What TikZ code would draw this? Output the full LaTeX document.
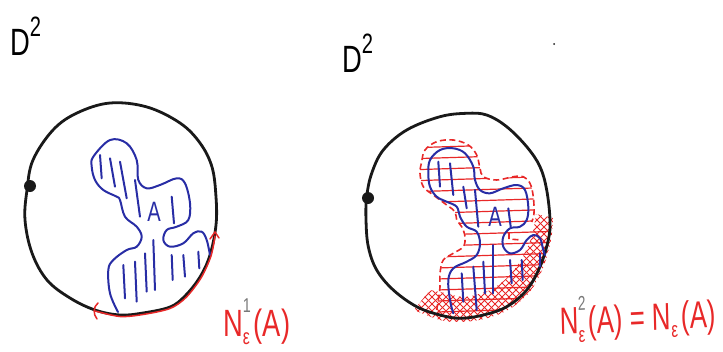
\documentclass[tikz,border=0pt]{standalone}
\usepackage{fontspec}
\setmainfont{Liberation Sans}
\definecolor{inkblue}{RGB}{40,45,165}
\definecolor{inkred}{RGB}{232,40,40}
\definecolor{inkblack}{RGB}{25,25,25}
\definecolor{pencil}{RGB}{120,120,120}
\newcommand{\epsstack}[1]{\rlap{\raisebox{-0.22em}{\fontsize{22}{22}\selectfont ε}}\raisebox{0.62em}{\fontsize{20}{20}\selectfont\textcolor{pencil}{#1}}}
\begin{document}
\begin{tikzpicture}[x=1pt,y=-1pt,
  disk/.style={draw=inkblack, line width=2.8pt, line join=round},
  blob/.style={draw=inkblue, line width=2pt, line join=round, line cap=round},
  bhatch/.style={inkblue, line width=2pt, line cap=round},
  rhatch/.style={inkred, line width=1.2pt},
  xhatch/.style={inkred, line width=1.0pt},
  nbhd/.style={inkred, line width=1.6pt, dash pattern=on 6pt off 3.5pt},
  redline/.style={inkred, line width=1.5pt, line cap=round},
  lbl/.style={inner sep=0pt, font=\fontsize{38}{38}\selectfont},
  alabel/.style={inner sep=0pt, text=inkblue, font=\fontsize{28}{28}\selectfont}]
\useasboundingbox (0,0) rectangle (723,351);

% ---------------- right picture: hatchings ----------------
\begin{scope}
\clip plot[smooth, tension=0.6] coordinates {(436.7,310) (438.3,300) (440,286.7) (440,273.3) (443.3,260) (453.3,253.3) (463.3,246.7) (465,236.7) (461.7,226.7) (456.7,220) (455,211.7) (446.7,205) (433.3,195) (423.3,186.7) (420,173.3) (421.7,161.7) (425,150) (436.7,141.7) (453.3,140) (468.3,145) (476.7,155) (480,168.3) (483.3,176.7) (496.7,180) (513.3,176.7) (523.3,176.7) (530,183.3) (533.3,196.7) (534,213.3) (531.7,222)}
  -- (548.3,228) -- plot[smooth] coordinates {(548.3,240) (540,266.7) (526.7,290) (506.7,306.7) (483.3,315) (460,318.3) (440,315)} -- cycle;
\foreach \yy in {148,159,...,320} {\draw[rhatch] (405,\yy) -- (565,\yy-5);}
\end{scope}
\begin{scope}
\clip plot[smooth] coordinates {(414,310) (440,320) (460,322) (484,319) (508,310) (529,293) (543,268) (551,240) (553,218)}
  -- plot[smooth] coordinates {(536,214) (532,236) (522,258) (508,277) (490,290) (465,297) (445,293) (430,290)} -- cycle;
\foreach \c in {300,307,...,580} {\draw[xhatch] (\c,200) -- ++(130,130);}
\foreach \c in {410,417,...,700} {\draw[xhatch] (\c,200) -- ++(-130,130);}
\end{scope}

% ---------------- discs ----------------
\draw[disk] plot[smooth cycle, tension=0.6] coordinates {(110,103) (147,107) (180,123) (200,143) (212,167) (216,197) (216,225) (210,255) (200,277) (185,296) (170,307) (143,313) (120,315) (95,310) (70,298) (47,280) (32,253) (25,220) (27,190) (33,160) (53,130) (77,113)};
\fill[inkblack] (30,186) circle (6pt);

\draw[disk] plot[smooth cycle, tension=0.6] coordinates {(466.7,113.3) (486.7,115) (506.7,126.7) (526.7,146.7) (540,166.7) (546.7,190) (550,220) (548.3,240) (540,266.7) (526.7,290) (506.7,306.7) (483.3,315) (460,318.3) (440,315) (416.7,306.7) (393.3,290) (376.7,270) (368.3,246.7) (366,220) (366.7,196.7) (371.7,173.3) (383.3,150) (406.7,130) (440,116.7)};
\fill[inkblack] (368,198) circle (6pt);

% ---------------- left picture: set A ----------------
\draw[blob] plot[smooth, tension=0.6] coordinates {(118,312) (110,293.3) (108.3,270) (113.3,260) (126.7,250) (136.7,246.7) (141.7,236.7) (136.7,226.7) (125,216.7) (120,200) (116.7,196.7) (103.3,190) (95,180) (91.7,166.7) (93.3,156.7) (110,140) (126.7,143.3) (136.7,160) (138.3,180) (146.7,188.3) (160,185) (176.7,178.3) (185,183.3) (190,203.3) (188.3,220) (176.7,226.7) (166.7,230) (163.3,240) (170,246.7) (183.3,243.3) (193.3,233.3) (201.7,231.7) (206.7,240) (210,255)};
\draw[bhatch] (100,155) -- (101.7,178.3);
\draw[bhatch] (110,158.3) -- (115,186.7);
\draw[bhatch] (120,161.7) -- (126.7,198.3);
\draw[bhatch] (135,180) -- (140,216.7);
\draw[bhatch] (171.7,196.7) -- (174,223.3);
\draw[bhatch] (123.3,265) -- (125,298.3);
\draw[bhatch] (135,261.7) -- (136.7,301.7);
\draw[bhatch] (145,253.3) -- (146.7,291.7);
\draw[bhatch] (153.3,240) -- (155,290);
\draw[bhatch] (171.7,255) -- (172.7,280);
\draw[bhatch] (183.3,255) -- (185,276.7);
\draw[bhatch] (198.3,251.7) -- (199.3,268.3);
\node[alabel, xscale=0.72] (aleft) at (154,212) {A};

% red boundary arc (left)
\draw[redline] plot[smooth] coordinates {(95,311) (120,316.5) (143,314.5) (170,308.5) (186,297.5) (201,278) (211,256) (215,236)};
\draw[redline] (98,303) .. controls (93,307) and (93,314) .. (97,319);
\draw[redline] (210,239) -- (215,232) -- (219,238);

% ---------------- right picture: neighbourhood boundary ----------------
\draw[nbhd] plot[smooth, tension=0.6] coordinates {(436.7,310) (438.3,300) (440,286.7) (440,273.3) (443.3,260) (453.3,253.3) (463.3,246.7) (465,236.7) (461.7,226.7) (456.7,220) (455,211.7) (446.7,205) (433.3,195) (423.3,186.7) (420,173.3) (421.7,161.7) (425,150) (436.7,141.7) (453.3,140) (468.3,145) (476.7,155) (480,168.3) (483.3,176.7) (496.7,180) (513.3,176.7) (523.3,176.7) (530,183.3) (533.3,196.7) (534,213.3) (531.7,222)};
\draw[nbhd] (509,233) -- (509,239) -- (521,240);

% right set A
\draw[blob] plot[smooth, tension=0.6] coordinates {(453.3,313.3) (450,300) (448.3,280) (453.3,268.3) (466.7,261.7) (476.7,255) (480,243.3) (476.7,231.7) (466.7,226.7) (460,216.7) (456.7,206.7) (446.7,201.7) (436.7,196.7) (430,186.7) (428.3,173.3) (430,160) (440,150) (453.3,148.3) (465,153.3) (473.3,166.7) (475,180) (480,190) (490,193.3) (503.3,188.3) (516.7,185) (525,190) (528.3,206.7) (526.7,220) (520,226.7) (510,228.3) (503.3,236.7) (503.3,246.7) (510,253.3) (520,250) (526.7,240) (533.3,235) (540,238.3) (543.3,250) (545,255)};
\draw[bhatch] (438.3,161.7) -- (440,186.7);
\draw[bhatch] (450,163.3) -- (453.3,195);
\draw[bhatch] (463.3,186.7) -- (466.7,208.3);
\draw[bhatch] (475,190) -- (478.3,226.7);
\draw[bhatch] (508.3,208.3) -- (510.7,226.7);
\draw[bhatch] (461.7,273.3) -- (463.3,301.7);
\draw[bhatch] (473.3,266.7) -- (476.7,310);
\draw[bhatch] (483.3,261.7) -- (485,293.3);
\draw[bhatch] (493.3,245) -- (493.3,293.3);
\draw[bhatch] (510,260) -- (511.7,283.3);
\draw[bhatch] (521.7,260) -- (522.7,280);
\draw[bhatch] (540,253.3) -- (540,266.7);
\node[alabel, xscale=0.72] (aright) at (495,217) {A};

% ---------------- labels ----------------
\node[lbl, anchor=base west, xscale=0.72] (dleft) at (10,55) {D\raisebox{0.5em}{\fontsize{28}{28}\selectfont 2}};
\node[lbl, anchor=base west, xscale=0.72] (dright) at (342,72) {D\raisebox{0.5em}{\fontsize{28}{28}\selectfont 2}};
\node[lbl, anchor=base west, xscale=0.72, text=inkred] (nleft) at (223,336) {N\epsstack{1}\hspace{0.1em}(A)};
\node[lbl, anchor=base west, xscale=0.68, text=inkred, rotate=2] (nright) at (560,335) {N\epsstack{2}\hspace{0.1em}(A) = N\epsstack{\phantom{2}}\hspace{0.1em}(A)};
\fill[inkblack] (554,44) circle (1pt);
\end{tikzpicture}
\end{document}
